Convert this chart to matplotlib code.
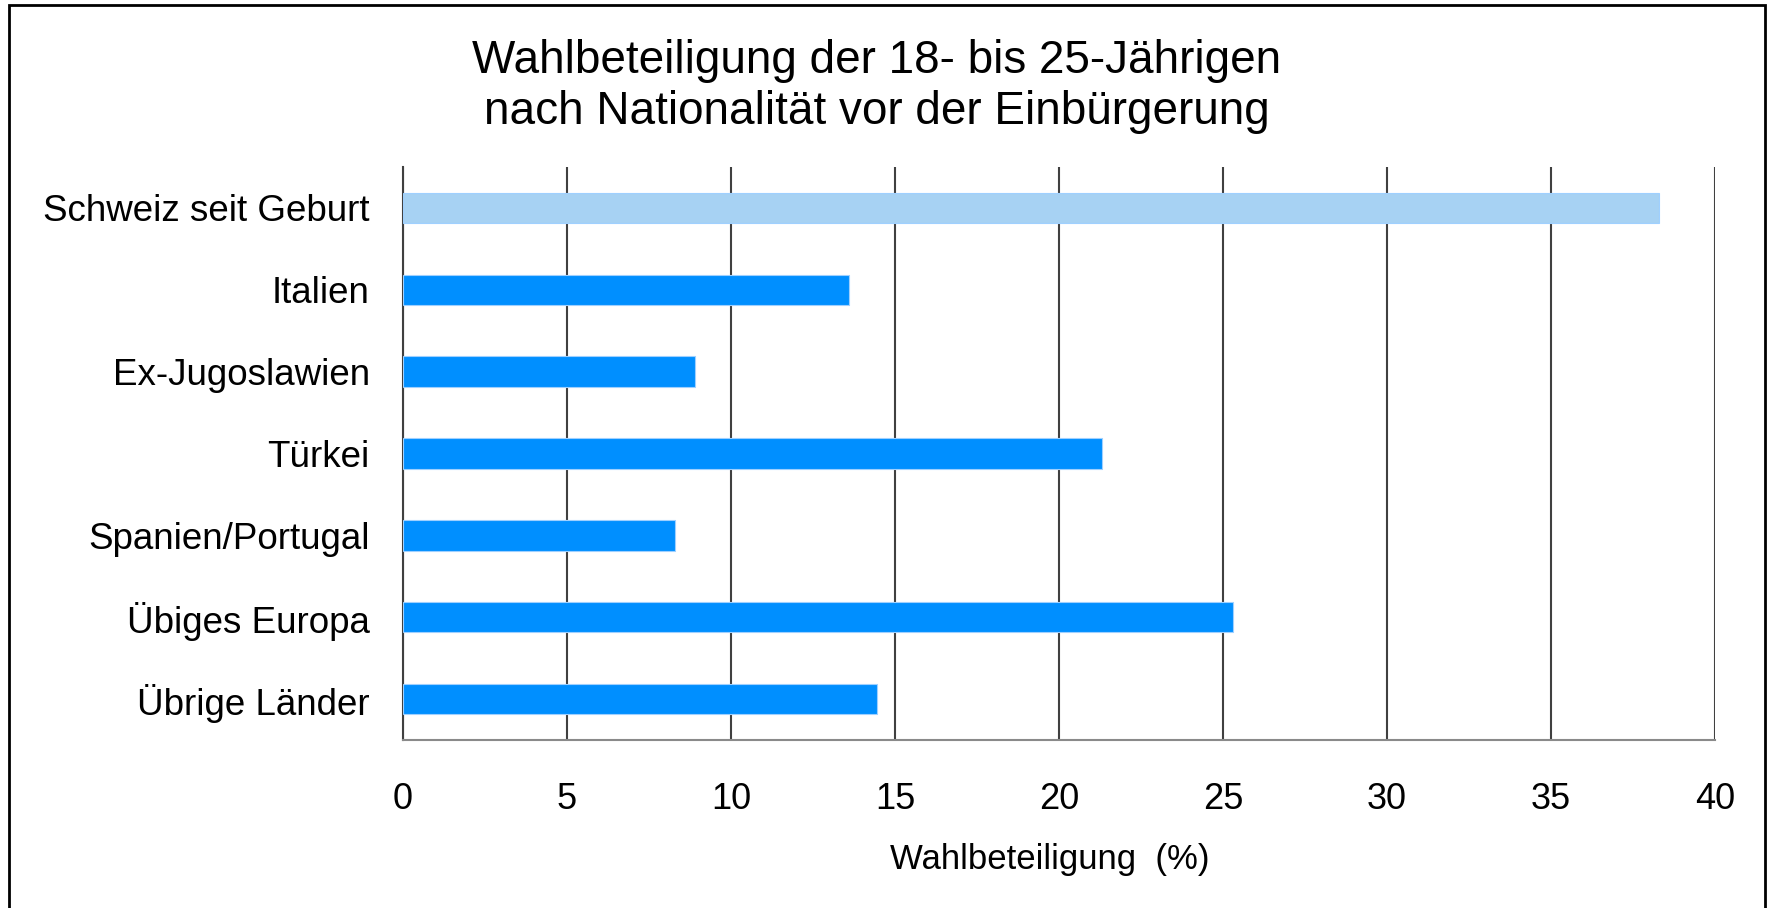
import matplotlib
matplotlib.use("Agg")
import matplotlib.pyplot as plt
from matplotlib.patches import Rectangle

plt.rcParams["font.family"] = ["Liberation Sans", "DejaVu Sans"]

# Daten
kategorien = ["Schweiz seit Geburt", "Italien", "Ex-Jugoslawien", "Türkei",
              "Spanien/Portugal", "Übiges Europa", "Übrige Länder"]
beteiligung = [38.3, 13.6, 8.9, 21.3, 8.3, 25.3, 14.45]
farben = ["#A7D2F3", "#008FFF", "#008FFF", "#008FFF", "#008FFF", "#008FFF", "#008FFF"]
x_ticks = [0, 5, 10, 15, 20, 25, 30, 35, 40]

fig = plt.figure(figsize=(17.7, 9.08), dpi=100)
ax = fig.add_axes([0.2277, 0.185, 0.7412, 0.6311])

y = list(range(len(kategorien)))
ax.barh(y, beteiligung, height=0.37, color=farben, edgecolor="#9fd0ff",
        linewidth=0.8, zorder=3)
ax.set_ylim(len(kategorien) - 0.5, -0.5)
ax.set_yticks(y)
ax.set_yticklabels(kategorien, fontsize=26.5)

ax.set_xlim(0, 40)
ax.set_xticks(x_ticks)
ax.set_xticklabels([str(t) for t in x_ticks], fontsize=26)
ax.tick_params(axis="both", length=0)
ax.tick_params(axis="x", pad=30)
ax.tick_params(axis="y", pad=24)

ax.grid(axis="x", color="#404040", linewidth=1.5, zorder=1)
ax.set_axisbelow(True)
for s in ["top", "right"]:
    ax.spines[s].set_visible(False)
ax.spines["left"].set_color("#404040")
ax.spines["left"].set_linewidth(1.5)
ax.spines["bottom"].set_color("#8a8a8a")
ax.spines["bottom"].set_linewidth(1.5)

ax.set_xlabel("Wahlbeteiligung  (%)", fontsize=25)
ax.xaxis.set_label_coords(0.493, -0.18)

fig.text(0.4955, 0.957, "Wahlbeteiligung der 18- bis 25-Jährigen\nnach Nationalität vor der Einbürgerung",
         ha="center", va="top", fontsize=33, linespacing=1.2)

# Rahmen um die ganze Grafik
fig.patches.append(Rectangle((9 / 1770, -0.05), (1765 - 9) / 1770, 1.05 - 5 / 908,
                             transform=fig.transFigure, fill=False,
                             edgecolor="black", linewidth=2))

fig.savefig("out.png", dpi=100)
